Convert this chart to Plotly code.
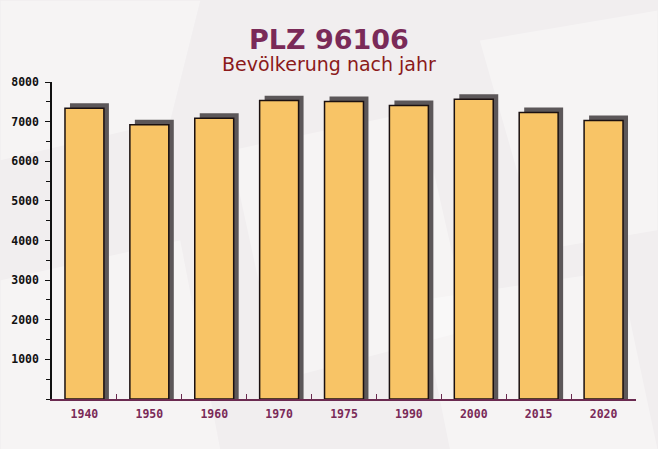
import plotly.graph_objects as go

years = ["1940", "1950", "1960", "1970", "1975", "1990", "2000", "2015", "2020"]
population = [7337, 6920, 7086, 7530, 7506, 7405, 7564, 7229, 7028]
y_ticks = [1000, 2000, 3000, 4000, 5000, 6000, 7000, 8000]

title_text = "PLZ 96106"
subtitle_text = "Bevölkerung nach jahr"

W, H = 658, 449
ML, MR, MT, MB = 51.5, 21.5, 81.5, 50
BAR_W = 0.6
SHADOW_DX = 0.077   # in category units (~5px)
SHADOW_DY = 126     # in value units (~5px)

plot_w = W - ML - MR
plot_h = H - MT - MB


def px_to_paper(xp, yp):
    return (xp - ML) / plot_w, (H - MB - yp) / plot_h


fig = go.Figure()
fig.add_trace(go.Bar(
    x=years, y=[v + SHADOW_DY for v in population],
    width=BAR_W, offset=-BAR_W / 2 + SHADOW_DX,
    marker=dict(color="#5c5759", line=dict(width=0)),
    hoverinfo="skip", showlegend=False,
))
fig.add_trace(go.Bar(
    x=years, y=population,
    width=BAR_W, offset=-BAR_W / 2,
    marker=dict(color="#f8c466", line=dict(color="#1a1010", width=1.5)),
    showlegend=False,
))

# faint background texture (decorative envelope-like patches)
bg_shapes = []
patches = [
    [(0, 0), (200, 0), (170, 120), (0, 160)],
    [(230, 150), (420, 110), (470, 330), (280, 380)],
    [(480, 40), (658, 10), (658, 230), (540, 250)],
    [(0, 280), (180, 240), (220, 449), (0, 449)],
    [(420, 300), (620, 270), (658, 449), (450, 449)],
]
for poly in patches:
    pts = [px_to_paper(x, y) for x, y in poly]
    bg_shapes.append(dict(type="path", xref="paper", yref="paper",
                          path="M " + " L ".join(f"{a:.4f},{b:.4f}" for a, b in pts) + " Z",
                          fillcolor="rgba(255,255,255,0.35)", line=dict(width=0), layer="below"))

tx, ty = px_to_paper(329, 39)
sx, sy = px_to_paper(329, 63.5)

fig.update_layout(
    width=W, height=H,
    barmode="overlay",
    paper_bgcolor="#f1eeef",
    plot_bgcolor="rgba(0,0,0,0)",
    margin=dict(l=ML, r=MR, t=MT, b=MB),
    shapes=bg_shapes,
    annotations=[
        dict(text="<b>" + title_text + "</b>", x=tx, y=ty, xref="paper", yref="paper",
             showarrow=False, font=dict(family="DejaVu Sans", size=27, color="#7a2a58"),
             xanchor="center", yanchor="middle"),
        dict(text=subtitle_text, x=sx, y=sy, xref="paper", yref="paper",
             showarrow=False, font=dict(family="DejaVu Sans", size=19, color="#8b1a1a"),
             xanchor="center", yanchor="middle"),
    ],
)

fig.update_xaxes(
    type="category",
    showline=True, linecolor="#6b2a50", linewidth=1.5,
    ticks="inside", tickson="boundaries", ticklen=5, tickcolor="#6b2a50",
    tickfont=dict(family="DejaVu Sans Mono", size=11.5, color="#7a2a58", weight="bold"),
    showgrid=False, zeroline=False,
    ticklabelstandoff=3,
)
fig.update_yaxes(
    range=[0, 8000],
    tickvals=y_ticks,
    showline=True, linecolor="#111111", linewidth=1.5,
    ticks="outside", ticklen=5, tickcolor="#111111",
    minor=dict(ticks="outside", ticklen=4, tickcolor="#111111", dtick=500, tick0=0, showgrid=False),
    tickfont=dict(family="DejaVu Sans Mono", size=11.5, color="#111111", weight="bold"),
    showgrid=False, zeroline=False,
    ticklabelstandoff=4,
)

fig.write_html("out.html")
